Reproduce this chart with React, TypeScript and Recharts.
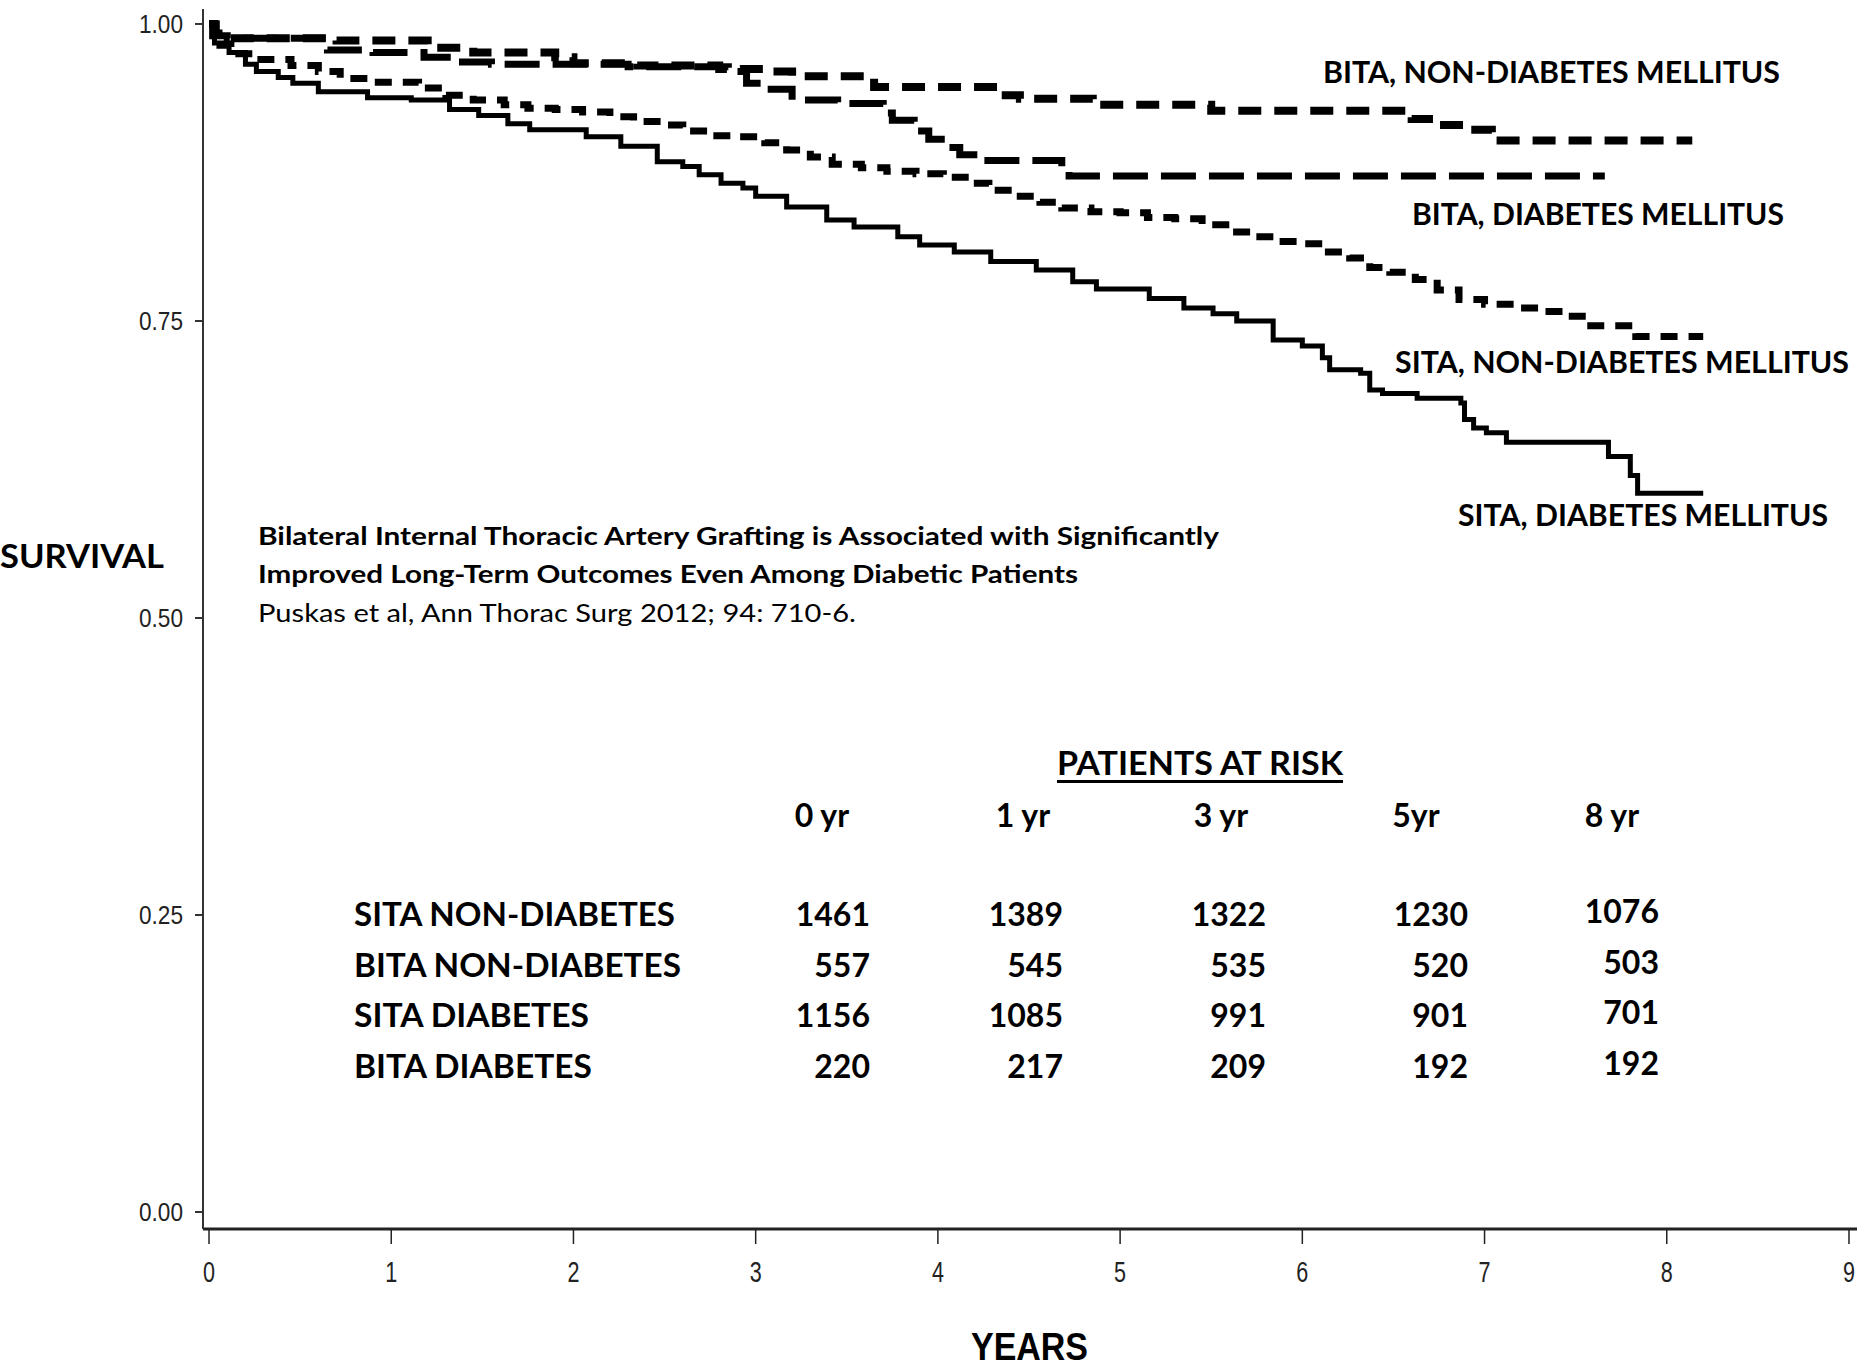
import React from 'react';
import { LineChart, Line, XAxis, YAxis } from 'recharts';

// Kaplan–Meier curves: [years, survival], drawn as step-after lines.
const SITA_DM: [number, number][] = [
  [0, 1.0], [0.03, 0.984], [0.11, 0.976], [0.2, 0.966], [0.26, 0.96], [0.38, 0.955], [0.46, 0.95],
  [0.6, 0.943], [0.87, 0.938], [1.11, 0.936], [1.32, 0.928], [1.48, 0.923], [1.64, 0.916], [1.76, 0.911],
  [2.07, 0.905], [2.26, 0.897], [2.46, 0.884], [2.6, 0.88], [2.69, 0.873], [2.81, 0.866], [2.93, 0.862],
  [3.0, 0.855], [3.17, 0.846], [3.39, 0.835], [3.54, 0.829], [3.78, 0.821], [3.9, 0.814], [4.09, 0.808],
  [4.29, 0.8], [4.54, 0.793], [4.74, 0.783], [4.87, 0.777], [5.16, 0.769], [5.35, 0.761], [5.51, 0.756],
  [5.64, 0.75], [5.84, 0.734], [6.0, 0.729], [6.11, 0.719], [6.15, 0.709], [6.32, 0.706], [6.37, 0.692],
  [6.44, 0.689], [6.63, 0.685], [6.87, 0.681], [6.89, 0.667], [6.94, 0.66], [7.01, 0.656], [7.12, 0.648],
  [7.68, 0.636], [7.8, 0.62], [7.84, 0.605], [8.2, 0.605],
];

const SITA_NON_DM: [number, number][] = [
  [0, 1.0], [0.02, 0.99], [0.06, 0.982], [0.12, 0.975], [0.25, 0.97], [0.45, 0.965], [0.6, 0.96],
  [0.72, 0.954], [0.9, 0.951], [1.15, 0.946], [1.3, 0.94], [1.45, 0.936], [1.62, 0.932], [1.75, 0.929],
  [1.9, 0.928], [2.05, 0.926], [2.2, 0.922], [2.33, 0.918], [2.48, 0.915], [2.6, 0.91], [2.75, 0.906],
  [2.9, 0.905], [3.05, 0.9], [3.17, 0.894], [3.3, 0.888], [3.42, 0.882], [3.58, 0.879], [3.72, 0.876],
  [3.88, 0.874], [4.03, 0.871], [4.15, 0.866], [4.28, 0.86], [4.43, 0.855], [4.56, 0.85], [4.68, 0.845],
  [4.84, 0.842], [5.0, 0.841], [5.15, 0.837], [5.3, 0.836], [5.45, 0.831], [5.58, 0.825], [5.74, 0.821],
  [5.86, 0.817], [6.0, 0.815], [6.12, 0.808], [6.26, 0.803], [6.37, 0.795], [6.48, 0.791], [6.62, 0.785],
  [6.74, 0.776], [6.86, 0.768], [7.0, 0.764], [7.17, 0.761], [7.32, 0.758], [7.45, 0.754], [7.56, 0.746],
  [7.83, 0.737], [8.2, 0.737],
];

const BITA_NON_DM: [number, number][] = [
  [0, 1.0], [0.03, 0.992], [0.1, 0.988], [0.7, 0.986], [1.2, 0.98], [1.45, 0.976], [1.9, 0.972],
  [2.0, 0.967], [2.35, 0.965], [2.8, 0.962], [3.05, 0.96], [3.2, 0.956], [3.65, 0.947], [4.35, 0.94],
  [4.45, 0.937], [4.85, 0.932], [5.5, 0.927], [6.6, 0.92], [6.75, 0.915], [6.9, 0.911], [7.04, 0.902],
  [8.14, 0.902],
];

const BITA_DM: [number, number][] = [
  [0, 1.0], [0.04, 0.99], [0.1, 0.988], [0.65, 0.978], [0.9, 0.976], [1.18, 0.972], [1.35, 0.968],
  [1.55, 0.966], [2.3, 0.964], [2.85, 0.96], [2.95, 0.95], [3.05, 0.945], [3.2, 0.936], [3.45, 0.933],
  [3.7, 0.925], [3.75, 0.919], [3.87, 0.91], [3.95, 0.903], [4.05, 0.896], [4.12, 0.89], [4.25, 0.885],
  [4.68, 0.878], [4.72, 0.872], [7.66, 0.872],
];

const X_TICKS = [0, 1, 2, 3, 4, 5, 6, 7, 8, 9];
const Y_TICKS = [0, 0.25, 0.5, 0.75, 1];

// patients-at-risk table
const RISK_YEARS = ['0 yr', '1 yr', '3 yr', '5yr', '8 yr'];
const RISK_GROUPS = ['SITA NON-DIABETES', 'BITA NON-DIABETES', 'SITA DIABETES', 'BITA DIABETES'];
const RISK_SITA_NON_DM = [1461, 1389, 1322, 1230, 1076];
const RISK_BITA_NON_DM = [557, 545, 535, 520, 503];
const RISK_SITA_DM = [1156, 1085, 991, 901, 701];
const RISK_BITA_DM = [220, 217, 209, 192, 192];

const CURVE_LABELS = [
  'BITA, NON-DIABETES MELLITUS',
  'BITA, DIABETES MELLITUS',
  'SITA, NON-DIABETES MELLITUS',
  'SITA, DIABETES MELLITUS',
];

const NARROW = "'Liberation Sans Narrow', 'Arial Narrow', 'Liberation Sans', sans-serif";
const CAL = "Lato, 'Open Sans', sans-serif";

const rows = (pts: [number, number][]) => pts.map(([t, s]) => ({ t, s }));

// the SAS tick labels are very narrow, so squeeze them to the measured widths
function XTick(props: any) {
  const { x, y, payload } = props;
  return (
    <text x={x - 6} y={y} dy="0.71em" fontFamily={NARROW} fontSize={29} fill="#222"
      textLength={12} lengthAdjust="spacingAndGlyphs">
      {payload.value}
    </text>
  );
}

function YTick(props: any) {
  const { x, y, payload } = props;
  return (
    <text x={x - 44} y={y} dy="0.36em" fontFamily={NARROW} fontSize={26} fill="#222"
      textLength={44} lengthAdjust="spacingAndGlyphs">
      {Number(payload.value).toFixed(2)}
    </text>
  );
}

const COL_RIGHT = [870, 1063, 1266, 1468, 1659];
const COL_MID = [822, 1023, 1221, 1416, 1612];
const ROW_BASE = [926, 977, 1027, 1078];
const ROW_LABEL_W = [321, 327, 235, 238];

export default function App() {
  const riskRows = [RISK_SITA_NON_DM, RISK_BITA_NON_DM, RISK_SITA_DM, RISK_BITA_DM];
  return (
    <div style={{ position: 'absolute', left: 0, top: 0, width: 1864, height: 1368, background: '#fff' }}>
      <LineChart width={1864} height={1368} margin={{ top: 9, right: 7, bottom: 79, left: 103 }}>
        <XAxis
          xAxisId="b"
          dataKey="t"
          type="number"
          domain={[-0.033, 9.044]}
          ticks={X_TICKS}
          allowDataOverflow
          height={60}
          tickSize={15}
          tickMargin={17}
          tick={<XTick />}
          axisLine={{ stroke: '#222', strokeWidth: 3 }}
          tickLine={{ stroke: '#222', strokeWidth: 1.5 }}
        />
        <XAxis
          xAxisId="top"
          orientation="top"
          type="number"
          domain={[0, 1]}
          height={0}
          tick={false}
          tickLine={false}
          axisLine={{ stroke: '#555', strokeWidth: 2 }}
        />
        <YAxis
          yAxisId="l"
          type="number"
          domain={[-0.0143, 1.0126]}
          ticks={Y_TICKS}
          allowDataOverflow
          width={100}
          tickSize={8}
          tickMargin={12}
          tick={<YTick />}
          axisLine={{ stroke: '#333', strokeWidth: 2 }}
          tickLine={{ stroke: '#333', strokeWidth: 2 }}
        />
        <YAxis
          yAxisId="r"
          orientation="right"
          type="number"
          domain={[0, 1]}
          width={0}
          tick={false}
          tickLine={false}
          axisLine={{ stroke: '#555', strokeWidth: 2 }}
        />
        <Line xAxisId="b" yAxisId="l" data={rows(BITA_NON_DM)} dataKey="s" type="stepAfter" stroke="#000"
          strokeWidth={8} strokeDasharray="23 13" dot={false} activeDot={false} isAnimationActive={false} />
        <Line xAxisId="b" yAxisId="l" data={rows(BITA_DM)} dataKey="s" type="stepAfter" stroke="#000"
          strokeWidth={7} strokeDasharray="35 13" dot={false} activeDot={false} isAnimationActive={false} />
        <Line xAxisId="b" yAxisId="l" data={rows(SITA_NON_DM)} dataKey="s" type="stepAfter" stroke="#000"
          strokeWidth={7} strokeDasharray="17 11" dot={false} activeDot={false} isAnimationActive={false} />
        <Line xAxisId="b" yAxisId="l" data={rows(SITA_DM)} dataKey="s" type="stepAfter" stroke="#000"
          strokeWidth={5} dot={false} activeDot={false} isAnimationActive={false} />
      </LineChart>

      <svg width={1864} height={1368} style={{ position: 'absolute', left: 0, top: 0, pointerEvents: 'none' }}>
        {/* curve labels */}
        <g fontFamily={CAL} fontWeight={700} fontSize={30} fill="#000">
          <text x={1323} y={83} textLength={457} lengthAdjust="spacingAndGlyphs">{CURVE_LABELS[0]}</text>
          <text x={1412} y={225} textLength={372} lengthAdjust="spacingAndGlyphs">{CURVE_LABELS[1]}</text>
          <text x={1395} y={373} textLength={454} lengthAdjust="spacingAndGlyphs">{CURVE_LABELS[2]}</text>
          <text x={1458} y={526} textLength={370} lengthAdjust="spacingAndGlyphs">{CURVE_LABELS[3]}</text>
        </g>

        {/* axis titles */}
        <text x={0} y={568} fontFamily={CAL} fontWeight={700} fontSize={33} textLength={164}
          lengthAdjust="spacingAndGlyphs" fill="#000">SURVIVAL</text>
        <text x={971} y={1360} fontFamily={NARROW} fontWeight={700} fontSize={39} textLength={117}
          lengthAdjust="spacingAndGlyphs" fill="#000">YEARS</text>

        {/* citation */}
        <g fontFamily={CAL} fontSize={25} fill="#000">
          <text x={258} y={545} fontWeight={700} textLength={961} lengthAdjust="spacingAndGlyphs">
            Bilateral Internal Thoracic Artery Grafting is Associated with Significantly
          </text>
          <text x={258} y={583} fontWeight={700} textLength={820} lengthAdjust="spacingAndGlyphs">
            Improved Long-Term Outcomes Even Among Diabetic Patients
          </text>
          <text x={258} y={622} fontWeight={400} textLength={598} lengthAdjust="spacingAndGlyphs">
            Puskas et al, Ann Thorac Surg 2012; 94: 710-6.
          </text>
        </g>

        {/* patients at risk */}
        <g fontFamily={CAL} fontWeight={700} fontSize={32} fill="#000">
          <text x={1057} y={775} textLength={286} lengthAdjust="spacingAndGlyphs">PATIENTS AT RISK</text>
          <rect x={1057} y={780} width={286} height={3} fill="#000" />
          {RISK_YEARS.map((yr, i) => (
            <text key={yr} x={COL_MID[i]} y={827} textAnchor="middle">{yr}</text>
          ))}
          {RISK_GROUPS.map((g, r) => (
            <text key={g} x={354} y={ROW_BASE[r]} textLength={ROW_LABEL_W[r]} lengthAdjust="spacingAndGlyphs">{g}</text>
          ))}
          {riskRows.map((vals, r) =>
            vals.map((v, c) => (
              <text key={`${r}-${c}`} x={COL_RIGHT[c]} y={ROW_BASE[r] - (c === 4 ? 3 : 0)} textAnchor="end">{v}</text>
            ))
          )}
        </g>
      </svg>
    </div>
  );
}
